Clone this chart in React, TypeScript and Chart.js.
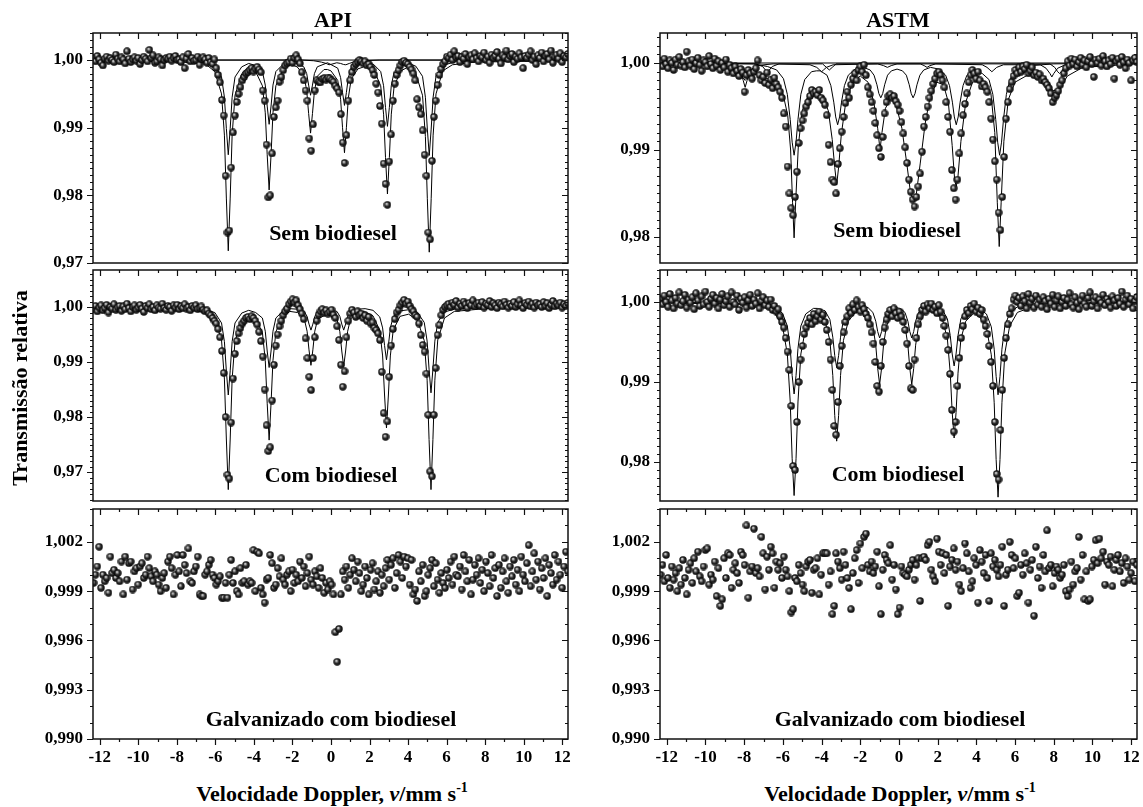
import React, { useEffect, useRef } from 'react';
import { Chart, registerables } from 'chart.js';
Chart.register(...registerables);

const FONT = "'Liberation Serif', 'Times New Roman', Times, serif";

// channel velocity calibration (mm/s)
const V_START = -12.32;
const V_STEP = 0.0965;
const X_MIN = -12.35;
const X_MAX = 12.3;
const X_MAJOR = [-12, -10, -8, -6, -4, -2, 0, 2, 4, 6, 8, 10, 12];
const X_MINOR = [-11, -9, -7, -5, -3, -1, 1, 3, 5, 7, 9, 11];

const Y_MAJOR_A = [0.97, 0.98, 0.99, 1.0];
const Y_MAJOR_B = [0.98, 0.99, 1.0];
const Y_MAJOR_C = [0.99, 0.993, 0.996, 0.999, 1.002];

// transmission offsets from 1, in units of 1e-4, one value per channel
const API_SEM = [
  3, -2, 6, 1, -4, -8, 2, 5, -1, 3, 0, -3, 8, 2, -2, 4,
  1, -5, 13, 2, -3, 1, 4, -1, 3, -6, 0, 5, 2, -2, 15, 3,
  7, -4, -2, 4, 1, -8, 0, 3, 2, 5, -1, 3, 6, 0, 1, -3,
  4, -12, 2, 9, -2, 3, -1, 0, 5, -7, 2, 4, 1, -4, 3, -3,
  -6, 1, -12, -22, -33, -59, -82, -171, -255, -252, -159, -107, -82, -62, -50, -40,
  -30, -25, -20, -18, -15, -12, -17, -13, -10, -14, -18, -45, -60, -125, -203, -200,
  -138, -84, -70, -60, -32, -25, -15, -8, -5, -3, 2, -4, 3, 7, 1, -5,
  -18, -30, -45, -60, -116, -134, -95, -45, -30, -32, -33, -28, -27, -29, -26, -27,
  -30, -32, -38, -42, -48, -80, -122, -152, -111, -60, -30, -18, -10, -6, -3, 0,
  -2, -5, -2, -8, -6, -10, -15, -22, -35, -48, -68, -94, -153, -183, -214, -150,
  -110, -60, -35, -22, -15, -8, -3, -1, -4, -6, -10, -14, -20, -30, -58, -70,
  -80, -104, -140, -171, -255, -265, -149, -84, -60, -37, -22, -13, -6, -2, 5, 3,
  8, 0, 13, 4, 6, -3, 5, 2, 9, -6, 4, 7, 1, 10, 3, -2,
  6, 4, 11, 0, 5, -4, 8, 3, 6, 12, 2, -5, 7, 4, 14, 1,
  6, 9, -3, 5, 2, 10, 4, -12, 6, 3, 8, 13, 0, 5, -6, 7,
  3, 11, -2, 6, 9, 1, 14, -4, 5, 8, 2, 10, -3, 6, 4, 9,
];

const API_COM = [
  -4, 2, -8, -1, 3, -6, -2, 4, -10, 0, -3, 5, -5, -1, 2, -7,
  1, -4, 6, -2, -8, 0, 3, -5, -1, 4, -3, -9, 2, -2, 5, -4,
  0, -6, 3, -1, -3, 6, -2, -5, 2, 0, -7, 3, -1, 4, -4, 1,
  -2, 5, -3, 0, -6, 2, -1, 3, -4, -2, 1, -5, -8, -6, -12, -15,
  -20, -25, -30, -40, -55, -80, -120, -200, -305, -312, -210, -130, -85, -62, -48, -38,
  -30, -25, -20, -18, -22, -17, -20, -25, -32, -45, -62, -90, -150, -215, -262, -255,
  -170, -105, -70, -50, -35, -25, -15, -8, -3, 5, 10, 14, 8, 12, 3, -4,
  -12, -22, -57, -93, -127, -151, -93, -55, -25, -14, -8, -4, -10, -6, -12, -9,
  -5, -14, -20, -35, -60, -105, -145, -117, -55, -25, -12, -5, -10, -18, -8, -15,
  -12, -20, -15, -25, -18, -30, -28, -38, -42, -48, -60, -118, -193, -236, -208, -127,
  -70, -40, -22, -10, -5, 3, 8, 13, 6, 10, 2, -4, -8, -15, -18, -30,
  -51, -69, -81, -121, -196, -299, -308, -196, -111, -51, -33, -15, -5, 0, 3, 6,
  0, 8, 4, 11, -1, 6, 2, 10, 5, -2, 7, 3, 12, 1, 5, 8,
  2, 9, -1, 6, 4, 11, 0, 7, 3, -2, 8, 5, 1, 10, 4, -1,
  6, 2, 9, 0, 5, 12, 3, -2, 7, 4, 10, 1, 6, -1, 8, 3,
  5, 0, 9, 2, 7, -2, 4, 11, 1, 6, 3, 8, -1, 5, 2, 7,
];

const ASTM_SEM = [
  2, -4, 5, -1, -6, 3, 0, -8, 4, -2, 7, -3, 1, -5, 13, 2,
  -3, 4, -7, 0, 6, -2, -9, 3, 1, -4, 8, -1, -6, 5, -3, 2,
  -8, 0, -5, 4, -10, -2, -6, -12, -4, -9, -15, -7, -11, -33, -14, -8,
  -12, -18, -10, -6, 3, -14, -20, -16, -23, -11, -25, -19, -29, -17, -24, -28,
  -33, -40, -58, -73, -119, -150, -167, -175, -154, -125, -92, -75, -66, -58, -50, -45,
  -38, -31, -35, -33, -37, -31, -40, -43, -48, -60, -94, -114, -134, -137, -150, -116,
  -98, -79, -62, -46, -33, -40, -25, -18, -12, -20, -8, -4, -10, -2, -14, -28,
  -36, -45, -55, -69, -83, -98, -108, -85, -58, -45, -38, -36, -40, -38, -44, -48,
  -55, -68, -81, -97, -115, -134, -148, -157, -165, -154, -142, -127, -102, -73, -62, -50,
  -40, -32, -24, -18, -12, -10, -14, -20, -28, -45, -62, -79, -123, -144, -157, -134,
  -104, -81, -60, -47, -35, -22, -14, -8, -12, -18, -10, -20, -27, -24, -28, -33,
  -45, -64, -88, -113, -134, -172, -192, -154, -108, -64, -45, -30, -22, -15, -8, -12,
  -5, -10, -4, -7, -2, -12, -9, -5, -14, -11, -16, -13, -20, -18, -22, -25,
  -29, -35, -45, -40, -37, -32, -25, -20, -12, -6, 2, -3, 5, -1, 4, -4,
  1, 6, -2, 3, -5, 2, 7, -1, -16, 4, 0, 5, -3, 8, 2, -4,
  3, -1, 6, -18, 2, 5, -2, 7, 1, -6, 4, 0, -20, 3, 6, 1,
];

const ASTM_COM = [
  4, -3, 8, 0, -6, 10, 2, -8, 5, -2, 12, -4, 1, 9, -7, 3,
  -1, 6, -9, 11, 2, -5, 7, -3, 13, 0, -6, 4, 9, -2, 5, -8,
  3, 10, -4, 1, 7, -6, 12, 0, -3, 8, -10, 4, -1, 6, -7, 2,
  9, -5, 3, -2, 11, -8, 1, 6, -4, 2, -6, 3, -10, -5, -12, -9,
  -18, -25, -32, -45, -62, -85, -130, -205, -210, -150, -100, -72, -55, -40, -32, -26,
  -20, -28, -15, -24, -18, -12, -22, -16, -25, -35, -50, -72, -110, -155, -166, -125,
  -80, -55, -38, -25, -18, -8, -14, -3, -10, 2, -6, -12, -4, -9, -15, -20,
  -28, -38, -52, -75, -105, -112, -80, -50, -32, -22, -15, -10, -18, -8, -14, -20,
  -12, -18, -25, -35, -52, -80, -108, -110, -72, -45, -28, -18, -10, -5, -12, -3,
  -8, -2, -10, -6, -14, -4, -12, -20, -30, -42, -60, -90, -135, -162, -150, -105,
  -70, -45, -30, -18, -10, -14, -5, -9, -2, -12, -7, -15, -10, -22, -30, -40,
  -55, -75, -105, -150, -215, -222, -160, -110, -70, -45, -28, -15, -8, 3, 8, 0,
  5, -5, 7, 1, -8, 10, -1, 4, -7, 8, -3, 3, -6, 6, 1, -9,
  4, -2, 9, -6, 2, 7, -8, 0, 5, -5, 3, 11, -3, -7, 6, -1,
  -9, 2, 8, -2, -6, 5, 12, -5, 1, 6, -8, 3, -1, 9, -4, 4,
  0, -7, 7, 2, -5, 5, -2, 13, -6, 3, 8, -3, 4, -8, 1, 6,
];

const API_GALV = [
  -5, 0, 5, 17, -8, 0, -4, -2, -11, 11, 1, 3, -2, 1, -4, 8,
  -12, 11, -3, 7, 8, -9, 2, 4, -6, 5, 7, -2, 0, 11, 4, -1,
  -4, 2, 0, -6, -10, -2, 1, -8, 8, 11, 4, -12, 0, 12, 2, -7,
  12, 6, 1, 16, -4, -5, 2, 5, 11, -12, -13, -13, 0, 2, 6, 9,
  0, -2, -6, -4, -1, -14, -14, -5, -14, 0, 9, -5, 2, -10, -12, 4,
  -5, -4, 6, -6, -4, -5, 15, -10, 14, 13, -8, -12, -17, -3, -2, 12,
  7, -8, -6, 4, -1, 10, -3, -6, 0, 2, -10, 3, -5, 0, -4, 8,
  -2, 5, -7, 1, 11, -3, -6, 2, -1, -8, 4, -2, -11, -5, -9, -4,
  -6, -12, -35, -53, -33, -12, 2, -3, 5, -8, 0, 10, 3, -4, 8, 1,
  -10, -6, 5, -2, -12, 3, 7, -9, -4, 2, -11, 0, -7, 4, 9, -3,
  6, 10, -8, 1, 12, 8, -2, 11, 5, 10, -6, 9, -12, -9, -16, 2,
  -4, 6, -13, -10, 0, 4, 9, -7, 7, -3, -11, 1, -5, -8, 3, -2,
  8, -6, 11, 0, -1, 5, -9, 12, 2, -4, 9, -12, -3, 6, 0, 10,
  -5, 3, -10, 8, 1, -7, 12, -2, 4, -13, 6, -8, 2, 10, -4, -11,
  5, -1, 9, -6, 3, -10, 11, 0, -4, 7, 18, -7, 2, 13, -3, 8,
  -9, 4, -2, 10, -13, 6, 1, -6, 12, -3, 8, 0, -8, 5, 14, 2,
];

const ASTM_GALV = [
  0, 6, -4, 12, -2, -8, 5, -3, 1, -10, 4, -6, 9, -2, -12, 3,
  7, -5, 10, 2, 14, -1, -4, 5, 15, 16, -6, 0, -3, 8, -13, 4,
  -19, -15, 10, -2, 13, 12, -8, 3, 7, 1, -5, 14, 12, 6, 30, -14,
  2, 5, 28, 1, 4, -1, 23, 13, -9, 11, 3, 17, 13, -8, 8, 3,
  7, -2, 11, 3, -1, -10, -23, -21, -2, -4, 6, 1, -6, -10, 5, 8,
  9, -11, 3, 4, 10, -12, 0, 13, 13, 13, -6, 2, -24, -19, 13, 8,
  4, -3, 14, 6, -2, -8, -21, 1, 10, 15, -5, 19, 4, 23, 25, 6,
  2, 8, 1, 5, 14, -7, -24, 3, 12, 9, 7, 18, -3, 6, -9, -24,
  -20, 5, 1, 0, -1, 3, 6, 9, -3, 6, 10, -16, 10, 11, 9, 18,
  20, 3, -1, -4, 22, 14, 6, 13, 1, 12, -19, 5, 9, 16, 3, 8,
  -6, -10, 4, 19, 13, 2, -8, -4, 10, 6, -17, 15, 8, 1, 12, -2,
  -16, 13, 5, 9, 3, -1, 6, 17, -19, 0, 3, 20, 12, 4, 10, -13,
  -11, 6, 0, 13, 7, -17, 3, 9, -25, 17, -2, 5, -8, 12, 2, 27,
  4, 6, -7, 1, 5, 3, -2, 0, 6, -10, -13, -9, 8, -6, 2, 4,
  23, -3, 12, -15, 2, -16, -15, 5, 9, 21, 7, 22, 10, 14, -6, 8,
  6, 11, -7, 3, 9, 12, 2, 7, -5, 10, 5, -3, 1, 8, -4, 6,
];

// fitted curves: [velocity, offset 1e-4]
const BASELINE: [number, number][] = [[-12.35, 0], [12.3, 0]];

const API_SEM_FIT: [number, number][] = [
  [-12.35, -1], [-8, -2], [-6.5, -6], [-6.03, -17], [-5.68, -50], [-5.53, -111], [-5.43, -204], [-5.33, -282],
  [-5.23, -204], [-5.13, -111], [-4.98, -52], [-4.63, -20], [-4.27, -10], [-3.91, -17], [-3.56, -38], [-3.41, -78],
  [-3.31, -140], [-3.21, -192], [-3.11, -140], [-3.01, -78], [-2.86, -38], [-2.51, -15], [-2.15, -6], [-1.76, -10],
  [-1.41, -22], [-1.26, -45], [-1.16, -79], [-1.06, -108], [-0.96, -79], [-0.86, -46], [-0.71, -24], [-0.36, -14],
  [-0.18, -14], [0.0, -16], [0.35, -30], [0.5, -58], [0.6, -100], [0.7, -137], [0.8, -100], [0.9, -56], [1.05, -28],
  [1.4, -13], [1.82, -9], [2.23, -15], [2.58, -38], [2.73, -80], [2.83, -144], [2.93, -198], [3.03, -144], [3.13, -80],
  [3.28, -38], [3.63, -16], [4.02, -10], [4.4, -20], [4.75, -52], [4.9, -113], [5.0, -205], [5.1, -284], [5.2, -205],
  [5.3, -111], [5.45, -50], [5.8, -16], [6.3, -7], [7.5, -3], [12.3, -1],
];
const API_SEM_COMP: [number, number][] = [
  [-12.35, 0], [-7, -1], [-6.03, -8], [-5.68, -25], [-5.53, -55], [-5.43, -101], [-5.33, -140], [-5.23, -101],
  [-5.13, -55], [-4.98, -25], [-4.63, -10], [-4.27, -5], [-3.91, -8], [-3.56, -17], [-3.41, -37], [-3.31, -68],
  [-3.21, -95], [-3.11, -68], [-3.01, -37], [-2.86, -17], [-2.51, -7], [-2.15, -3], [-1.76, -5], [-1.41, -10],
  [-1.26, -20], [-1.16, -37], [-1.06, -52], [-0.96, -37], [-0.86, -20], [-0.71, -10], [-0.18, -4], [0.35, -12],
  [0.5, -26], [0.6, -48], [0.7, -67], [0.8, -48], [0.9, -26], [1.05, -12], [1.4, -5], [1.82, -4], [2.23, -7],
  [2.58, -17], [2.73, -38], [2.83, -70], [2.93, -98], [3.03, -70], [3.13, -38], [3.28, -17], [3.63, -7], [4.02, -5],
  [4.4, -9], [4.75, -24], [4.9, -55], [5.0, -102], [5.1, -141], [5.2, -102], [5.3, -55], [5.45, -24], [5.8, -8],
  [6.5, -2], [12.3, 0],
];
const API_SEM_DOUBLET: [number, number][] = [
  [-12.35, 0], [-1.5, 0], [-0.9, -1], [-0.5, -3], [-0.25, -5], [-0.1, -7], [0.05, -6], [0.3, -4], [0.5, -5],
  [0.65, -6.5], [0.77, -7], [0.95, -5], [1.2, -2.5], [1.7, -1], [2.5, 0], [12.3, 0],
];

const API_COM_FIT: [number, number][] = [
  [-12.35, -1], [-8, -3], [-6.5, -8], [-6.03, -22], [-5.68, -60], [-5.53, -131], [-5.43, -240], [-5.33, -332],
  [-5.23, -240], [-5.13, -131], [-4.98, -62], [-4.63, -25], [-4.27, -15], [-3.91, -22], [-3.56, -46], [-3.41, -97],
  [-3.31, -175], [-3.21, -242], [-3.11, -175], [-3.01, -97], [-2.86, -45], [-2.51, -18], [-2.13, -8], [-1.74, -10],
  [-1.39, -21], [-1.24, -44], [-1.14, -78], [-1.04, -106], [-0.94, -78], [-0.84, -44], [-0.69, -22], [-0.19, -12],
  [0.31, -22], [0.46, -45], [0.56, -80], [0.66, -108], [0.76, -80], [0.86, -45], [1.01, -22], [1.36, -11], [1.77, -9],
  [2.18, -16], [2.53, -42], [2.68, -89], [2.78, -160], [2.88, -220], [2.98, -160], [3.08, -89], [3.23, -42],
  [3.58, -17], [4.03, -13], [4.49, -24], [4.84, -61], [4.99, -133], [5.09, -241], [5.19, -332], [5.29, -241],
  [5.39, -133], [5.54, -60], [5.89, -20], [6.4, -8], [8, -3], [12.3, -1],
];
const API_COM_COMP: [number, number][] = [
  [-12.35, 0], [-7, -1], [-6.03, -10], [-5.68, -29], [-5.53, -63], [-5.43, -116], [-5.33, -160], [-5.23, -116],
  [-5.13, -63], [-4.98, -29], [-4.63, -11], [-4.27, -6], [-3.91, -10], [-3.56, -20], [-3.41, -44], [-3.31, -80],
  [-3.21, -110], [-3.11, -80], [-3.01, -44], [-2.86, -20], [-2.51, -8], [-2.13, -3], [-1.74, -4], [-1.39, -8],
  [-1.24, -17], [-1.14, -31], [-1.04, -42], [-0.94, -31], [-0.84, -17], [-0.69, -8], [-0.19, -4], [0.31, -8],
  [0.46, -17], [0.56, -31], [0.66, -42], [0.76, -31], [0.86, -17], [1.01, -8], [1.36, -4], [1.77, -3], [2.18, -6],
  [2.53, -18], [2.68, -38], [2.78, -70], [2.88, -96], [2.98, -70], [3.08, -38], [3.23, -18], [3.58, -7], [4.03, -5],
  [4.49, -10], [4.84, -28], [4.99, -62], [5.09, -113], [5.19, -156], [5.29, -113], [5.39, -62], [5.54, -28],
  [5.89, -9], [6.5, -3], [12.3, 0],
];

const ASTM_SEM_FIT: [number, number][] = [
  [-12.35, 0], [-10, -2], [-9, -5], [-8.3, -10], [-7.95, -20], [-7.6, -12], [-7.0, -16], [-6.4, -22], [-6.0, -35],
  [-5.75, -60], [-5.6, -100], [-5.5, -160], [-5.42, -201], [-5.34, -160], [-5.2, -95], [-5.0, -55], [-4.7, -38],
  [-4.3, -32], [-3.95, -38], [-3.65, -55], [-3.45, -88], [-3.32, -120], [-3.22, -140], [-3.12, -120], [-2.98, -82],
  [-2.75, -45], [-2.4, -22], [-2.0, -15], [-1.6, -22], [-1.3, -45], [-1.1, -75], [-0.98, -100], [-0.88, -80],
  [-0.7, -52], [-0.4, -40], [-0.15, -48], [0.15, -75], [0.4, -115], [0.6, -150], [0.76, -160], [0.9, -150],
  [1.1, -115], [1.35, -70], [1.6, -40], [1.95, -22], [2.3, -25], [2.55, -45], [2.75, -95], [2.88, -135],
  [2.96, -142], [3.05, -130], [3.2, -90], [3.45, -45], [3.8, -22], [4.3, -20], [4.75, -35], [4.95, -80],
  [5.08, -160], [5.18, -211], [5.28, -160], [5.42, -90], [5.65, -42], [6.0, -22], [6.8, -12], [7.5, -18],
  [7.95, -32], [8.3, -30], [8.7, -15], [9.5, -5], [12.3, -1],
];
const ASTM_SEM_A: [number, number][] = [
  [-12.35, 0], [-7.5, -1], [-6.8, -4], [-6.32, -8], [-5.97, -18], [-5.77, -36], [-5.62, -65], [-5.52, -91],
  [-5.42, -106], [-5.32, -91], [-5.22, -65], [-5.07, -36], [-4.87, -19], [-4.52, -10], [-4.27, -9], [-4.07, -9],
  [-3.72, -14], [-3.52, -26], [-3.37, -45], [-3.27, -62], [-3.17, -71], [-3.07, -62], [-2.97, -45], [-2.82, -26],
  [-2.62, -14], [-2.27, -7], [-1.84, -5], [-1.49, -8], [-1.29, -14], [-1.14, -25], [-1.04, -35], [-0.94, -40],
  [-0.84, -35], [-0.74, -25], [-0.59, -14], [-0.39, -9], [-0.1, -7], [0.18, -9], [0.38, -14], [0.53, -25],
  [0.63, -35], [0.73, -40], [0.83, -35], [0.93, -25], [1.08, -14], [1.28, -8], [1.63, -5], [2.06, -7],
  [2.41, -14], [2.61, -26], [2.76, -45], [2.86, -62], [2.96, -71], [3.06, -62], [3.16, -45], [3.31, -26],
  [3.51, -14], [3.86, -9], [4.08, -10], [4.3, -12], [4.65, -19], [4.85, -36], [5.0, -65], [5.1, -91], [5.2, -106],
  [5.3, -91], [5.4, -65], [5.55, -36], [5.75, -18], [6.1, -8], [6.8, -3], [8, -1], [12.3, 0],
];
const ASTM_SEM_B: [number, number][] = [
  [-12.35, 0], [-9, -1], [-8.5, -3], [-8.2, -9], [-8.05, -20], [-7.95, -28], [-7.85, -20], [-7.7, -9], [-7.4, -3],
  [-6.5, -1], [-4.6, -2], [-4.25, -5], [-4.1, -8], [-4.0, -10], [-3.9, -8], [-3.75, -5], [-3.4, -2], [-1.1, -1],
  [-0.8, -3], [-0.6, -5], [-0.4, -3], [-0.1, -1], [1.1, -1], [1.3, -3], [1.45, -5], [1.6, -3], [1.9, -1],
  [4.3, -2], [4.55, -5], [4.7, -8], [4.8, -10], [4.9, -8], [5.05, -5], [5.4, -2], [7.3, -2], [7.6, -6],
  [7.8, -12], [7.9, -16], [8.0, -12], [8.2, -6], [8.6, -2], [12.3, 0],
];
const ASTM_SEM_C: [number, number][] = [
  [-12.35, 0], [-7.4, -1], [-7.05, -4], [-6.9, -8], [-6.8, -10], [-6.7, -8], [-6.55, -4], [-6.2, -1],
  [-3.95, -1], [-3.75, -5], [-3.6, -8], [-3.45, -5], [-3.25, -1], [7.8, -1], [8.05, -5], [8.2, -10],
  [8.3, -12], [8.4, -10], [8.55, -5], [8.9, -1], [12.3, 0],
];

const ASTM_COM_FIT: [number, number][] = [
  [-12.35, -1], [-8, -3], [-7, -5], [-6.42, -14], [-6.02, -30], [-5.77, -65], [-5.62, -125], [-5.52, -196],
  [-5.42, -242], [-5.32, -196], [-5.22, -125], [-5.07, -65], [-4.82, -32], [-4.42, -18], [-4.22, -17],
  [-3.82, -24], [-3.57, -48], [-3.42, -92], [-3.32, -142], [-3.22, -174], [-3.12, -142], [-3.02, -92],
  [-2.87, -48], [-2.62, -24], [-2.22, -12], [-1.6, -16], [-1.35, -30], [-1.2, -54], [-1.1, -83], [-1.0, -103],
  [-0.9, -83], [-0.8, -54], [-0.65, -30], [-0.4, -18], [-0.17, -15], [0.06, -18], [0.31, -30], [0.46, -54],
  [0.56, -83], [0.66, -103], [0.76, -83], [0.86, -54], [1.01, -30], [1.26, -16], [1.7, -10], [2.25, -22],
  [2.5, -46], [2.65, -89], [2.75, -138], [2.85, -170], [2.95, -138], [3.05, -89], [3.2, -46], [3.45, -24],
  [3.85, -14], [4.12, -17], [4.52, -32], [4.77, -66], [4.92, -126], [5.02, -197], [5.12, -244], [5.22, -197],
  [5.32, -126], [5.47, -64], [5.72, -30], [6.12, -13], [7, -5], [8.5, -2], [12.3, -1],
];
const ASTM_COM_COMP: [number, number][] = [
  [-12.35, 0], [-7.5, -2], [-6.42, -6], [-6.02, -14], [-5.77, -30], [-5.62, -58], [-5.52, -92], [-5.42, -115],
  [-5.32, -92], [-5.22, -58], [-5.07, -30], [-4.82, -15], [-4.42, -8], [-4.22, -8], [-3.82, -11], [-3.57, -22],
  [-3.42, -44], [-3.32, -67], [-3.22, -82], [-3.12, -67], [-3.02, -44], [-2.87, -22], [-2.62, -11], [-2.22, -5],
  [-1.6, -7], [-1.35, -13], [-1.2, -24], [-1.1, -37], [-1.0, -45], [-0.9, -37], [-0.8, -24], [-0.65, -13],
  [-0.4, -8], [-0.17, -7], [0.06, -8], [0.31, -13], [0.46, -24], [0.56, -37], [0.66, -45], [0.76, -37],
  [0.86, -24], [1.01, -13], [1.26, -7], [1.7, -4], [2.25, -10], [2.5, -21], [2.65, -42], [2.75, -65], [2.85, -80],
  [2.95, -65], [3.05, -42], [3.2, -21], [3.45, -11], [3.85, -7], [4.12, -8], [4.52, -15], [4.77, -31], [4.92, -59],
  [5.02, -93], [5.12, -116], [5.22, -93], [5.32, -59], [5.47, -30], [5.72, -14], [6.12, -6], [7, -2], [12.3, 0],
];

type Pair = [number, number];
interface PanelCfg {
  key: string;
  plotLeft: number;
  plotRight: number;
  plotTop: number;
  plotBottom: number;
  padRight: number;
  isBottom: boolean;
  yMin: number;
  yMax: number;
  yMajor: number[];
  yDigits: number;
  points: number[];
  lines: Pair[][];
}

const L = { left: 93, right: 568, pad: 12 };
const R = { left: 660, right: 1137, pad: 6 };
const ROW_T = { top: 33, bottom: 263 };
const ROW_M = { top: 270, bottom: 501 };
const ROW_B = { top: 509, bottom: 739 };

const PANELS: PanelCfg[] = [
  { key: 'lt', plotLeft: L.left, plotRight: L.right, padRight: L.pad, plotTop: ROW_T.top, plotBottom: ROW_T.bottom, isBottom: false,
    yMin: 0.97, yMax: 1.004, yMajor: Y_MAJOR_A, yDigits: 2, points: API_SEM,
    lines: [BASELINE, API_SEM_DOUBLET, API_SEM_COMP, API_SEM_FIT] },
  { key: 'lm', plotLeft: L.left, plotRight: L.right, padRight: L.pad, plotTop: ROW_M.top, plotBottom: ROW_M.bottom, isBottom: false,
    yMin: 0.96473, yMax: 1.00673, yMajor: Y_MAJOR_A, yDigits: 2, points: API_COM,
    lines: [API_COM_COMP, API_COM_FIT] },
  { key: 'lb', plotLeft: L.left, plotRight: L.right, padRight: L.pad, plotTop: ROW_B.top, plotBottom: ROW_B.bottom, isBottom: true,
    yMin: 0.99, yMax: 1.004, yMajor: Y_MAJOR_C, yDigits: 3, points: API_GALV, lines: [] },
  { key: 'rt', plotLeft: R.left, plotRight: R.right, padRight: R.pad, plotTop: ROW_T.top, plotBottom: ROW_T.bottom, isBottom: false,
    yMin: 0.97701, yMax: 1.00345, yMajor: Y_MAJOR_B, yDigits: 2, points: ASTM_SEM,
    lines: [BASELINE, ASTM_SEM_C, ASTM_SEM_B, ASTM_SEM_A, ASTM_SEM_FIT] },
  { key: 'rm', plotLeft: R.left, plotRight: R.right, padRight: R.pad, plotTop: ROW_M.top, plotBottom: ROW_M.bottom, isBottom: false,
    yMin: 0.97512, yMax: 1.004, yMajor: Y_MAJOR_B, yDigits: 2, points: ASTM_COM,
    lines: [ASTM_COM_COMP, ASTM_COM_FIT] },
  { key: 'rb', plotLeft: R.left, plotRight: R.right, padRight: R.pad, plotTop: ROW_B.top, plotBottom: ROW_B.bottom, isBottom: true,
    yMin: 0.99, yMax: 1.004, yMajor: Y_MAJOR_C, yDigits: 3, points: ASTM_GALV, lines: [] },
];

const Y_AXIS_W = 60;
const PAD_TOP = 10;
const X_AXIS_H = 32;

function makeSphere(): HTMLCanvasElement {
  const c = document.createElement('canvas');
  c.width = 8;
  c.height = 8;
  const g = c.getContext('2d')!;
  const grad = g.createRadialGradient(3.0, 2.8, 0.2, 4, 4, 3.8);
  grad.addColorStop(0, '#f4f4f4');
  grad.addColorStop(0.2, '#a0a0a0');
  grad.addColorStop(0.5, '#303030');
  grad.addColorStop(1, '#000000');
  g.fillStyle = grad;
  g.beginPath();
  g.arc(4, 4, 3.7, 0, Math.PI * 2);
  g.fill();
  return c;
}

const framePlugin = {
  id: 'frame',
  afterDraw(chart: any, _args: any, opts: any) {
    const { ctx, chartArea: a } = chart;
    const xs = chart.scales.x;
    const ys = chart.scales.y;
    ctx.save();
    ctx.strokeStyle = '#111';
    ctx.lineWidth = 1.2;
    ctx.beginPath();
    const xt = (v: number, len: number) => {
      const p = Math.round(xs.getPixelForValue(v)) + 0.5;
      ctx.moveTo(p, a.top);
      ctx.lineTo(p, a.top + len);
      if (opts.isBottom) {
        ctx.moveTo(p, a.bottom);
        ctx.lineTo(p, a.bottom + len);
      }
    };
    X_MAJOR.forEach((v) => xt(v, 6));
    X_MINOR.forEach((v) => xt(v, 3));
    const yt = (v: number, len: number) => {
      const p = Math.round(ys.getPixelForValue(v)) + 0.5;
      ctx.moveTo(a.left, p);
      ctx.lineTo(a.left - len, p);
      ctx.moveTo(a.right, p);
      ctx.lineTo(a.right - len, p);
    };
    const k0 = Math.ceil(opts.yMin * 1000 - 1e-6);
    const k1 = Math.floor(opts.yMax * 1000 + 1e-6);
    for (let k = k0; k <= k1; k++) yt(k / 1000, 3);
    opts.yMajor.forEach((v: number) => yt(v, 6));
    ctx.stroke();
    ctx.lineWidth = 1.5;
    ctx.strokeRect(a.left, a.top, a.right - a.left, a.bottom - a.top);
    ctx.restore();
  },
};

function Panel({ cfg }: { cfg: PanelCfg }) {
  const ref = useRef<HTMLCanvasElement>(null);
  const left = cfg.plotLeft - Y_AXIS_W;
  const top = cfg.plotTop - PAD_TOP;
  const width = cfg.plotRight - left + cfg.padRight;
  const padBottom = cfg.isBottom ? 4 : 12;
  const height = cfg.plotBottom - top + (cfg.isBottom ? X_AXIS_H : 0) + padBottom;

  useEffect(() => {
    const sphere = makeSphere();
    const pts = cfg.points.map((d, i) => ({ x: V_START + V_STEP * i, y: 1 + d / 1e4 }));
    const lineSets = cfg.lines.map((ln) => ({
      data: ln.map(([x, y]) => ({ x, y: 1 + y / 1e4 })),
      showLine: true,
      pointRadius: 0,
      borderColor: '#000',
      borderWidth: 1,
      tension: 0,
      order: 2,
    }));
    const tickFont = { family: FONT, size: 17, weight: 'bold' as const };
    const chart = new Chart(ref.current!, {
      type: 'scatter',
      data: {
        datasets: [
          { data: pts, pointStyle: sphere as any, pointRadius: 4, showLine: false, order: 0 } as any,
          ...lineSets,
        ],
      },
      options: {
        animation: false,
        responsive: false,
        maintainAspectRatio: false,
        events: [],
        layout: { padding: { left: 0, top: PAD_TOP, right: cfg.padRight, bottom: padBottom } },
        plugins: {
          legend: { display: false },
          tooltip: { enabled: false },
          frame: { isBottom: cfg.isBottom, yMin: cfg.yMin, yMax: cfg.yMax, yMajor: cfg.yMajor },
        } as any,
        scales: {
          x: {
            type: 'linear',
            min: X_MIN,
            max: X_MAX,
            display: cfg.isBottom,
            grid: { display: false, drawTicks: false },
            border: { display: false },
            ticks: { font: tickFont, color: '#000', padding: 8, autoSkip: false, maxRotation: 0, callback: (v: any) => String(v) },
            afterBuildTicks: (s: any) => { s.ticks = X_MAJOR.map((v) => ({ value: v })); },
            afterFit: (s: any) => {
              s.height = cfg.isBottom ? X_AXIS_H : 0;
              s.paddingLeft = 0;
              s.paddingRight = 0;
              s.paddingTop = 0;
              s.paddingBottom = 0;
            },
          },
          y: {
            type: 'linear',
            min: cfg.yMin,
            max: cfg.yMax,
            grid: { display: false, drawTicks: false },
            border: { display: false },
            ticks: {
              font: tickFont,
              color: '#000',
              padding: 10,
              autoSkip: false,
              callback: (v: any) => Number(v).toFixed(cfg.yDigits).replace('.', ','),
            },
            afterBuildTicks: (s: any) => { s.ticks = cfg.yMajor.map((v) => ({ value: v })); },
            afterFit: (s: any) => {
              s.width = Y_AXIS_W;
              s.paddingTop = 0;
              s.paddingBottom = 0;
              s.paddingLeft = 0;
              s.paddingRight = 0;
            },
          },
        },
      },
      plugins: [framePlugin as any],
    });
    return () => chart.destroy();
  }, []);

  return (
    <canvas
      ref={ref}
      width={width}
      height={height}
      style={{ position: 'absolute', left, top, width, height }}
    />
  );
}

function Txt({ x, baseline, children, size = 22 }: { x: number; baseline: number; children: any; size?: number }) {
  return (
    <div
      style={{
        position: 'absolute',
        left: x,
        top: baseline - size * 0.8364,
        transform: 'translateX(-50%)',
        fontFamily: FONT,
        fontWeight: 'bold',
        fontSize: size,
        lineHeight: `${size}px`,
        whiteSpace: 'nowrap',
        color: '#000',
      }}
    >
      {children}
    </div>
  );
}

function XTitle({ x }: { x: number }) {
  return (
    <Txt x={x} baseline={801}>
      Velocidade Doppler, <i>v</i>/mm s
      <span style={{ fontSize: 14, position: 'relative', top: -9 }}>-1</span>
    </Txt>
  );
}

export default function App() {
  return (
    <div style={{ position: 'absolute', left: 0, top: 0, width: 1143, height: 807, background: '#fff', overflow: 'hidden' }}>
      {PANELS.map((p) => (
        <Panel key={p.key} cfg={p} />
      ))}
      <Txt x={333} baseline={27}>API</Txt>
      <Txt x={898} baseline={27}>ASTM</Txt>
      <Txt x={333} baseline={240}>Sem biodiesel</Txt>
      <Txt x={897} baseline={237}>Sem biodiesel</Txt>
      <Txt x={331} baseline={482}>Com biodiesel</Txt>
      <Txt x={898} baseline={481}>Com biodiesel</Txt>
      <Txt x={331} baseline={726}>Galvanizado com biodiesel</Txt>
      <Txt x={900} baseline={726}>Galvanizado com biodiesel</Txt>
      <XTitle x={332} />
      <XTitle x={900} />
      <div
        style={{
          position: 'absolute',
          left: 20,
          top: 388,
          transform: 'translate(-50%, -50%) rotate(-90deg)',
          fontFamily: FONT,
          fontWeight: 'bold',
          fontSize: 22,
          lineHeight: '22px',
          whiteSpace: 'nowrap',
          color: '#000',
        }}
      >
        Transmissão relativa
      </div>
    </div>
  );
}
